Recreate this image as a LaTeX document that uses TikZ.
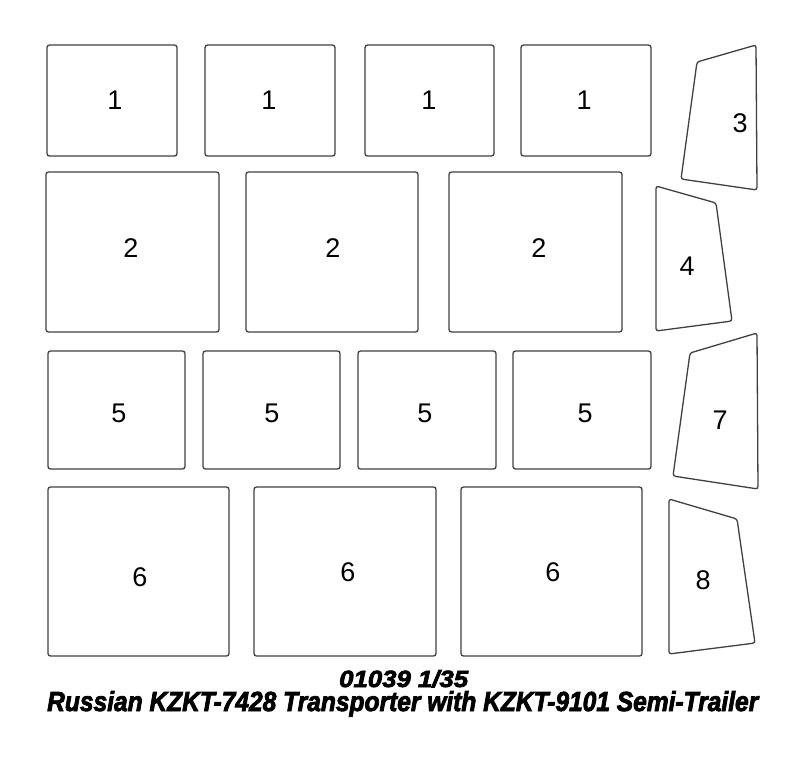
\documentclass[tikz,border=0pt]{standalone}
\usepackage{fontspec}
\setmainfont{Liberation Sans}
\newfontfamily\titlefont{Liberation Sans Bold Italic}[FakeBold=3]
\usepackage{graphicx}

\definecolor{partline}{HTML}{404040}

\tikzset{
    part/.style={draw=partline, line width=1.3pt, rounded corners=2.5pt},
    partnum/.style={font=\fontsize{27}{27}\selectfont, inner sep=0pt}
}

\begin{document}
\begin{tikzpicture}[x=1pt, y=-1pt]
    \useasboundingbox (0,0) rectangle (800,764);

    % Row of parts 1
    \foreach \xa/\xb/\lx in {47/177/115, 205/335/269, 365/494/429, 521/651/584} {
        \draw[part] (\xa,45) rectangle (\xb,156);
        \node[partnum] (one\lx) at (\lx,100) {1};
    }

    % Row of parts 2
    \foreach \xa/\xb/\lx in {46/219/131, 246/418/333, 449/622/539} {
        \draw[part] (\xa,172) rectangle (\xb,332);
        \node[partnum] (two\lx) at (\lx,248) {2};
    }

    % Row of parts 5
    \foreach \xa/\xb/\lx in {48/185/119, 203/340/272, 358/496/425, 513/651/585} {
        \draw[part] (\xa,351) rectangle (\xb,469);
        \node[partnum] (five\lx) at (\lx,413) {5};
    }

    % Row of parts 6
    \foreach \xa/\xb/\lx/\ly in {48/229/140/577, 254/436/348/572, 461/642/553/572} {
        \draw[part] (\xa,487) rectangle (\xb,656);
        \node[partnum] (six\lx) at (\lx,\ly) {6};
    }

    % Side windows 3, 4, 7, 8
    \draw[part] (697,62) -- (756,45) -- (757,190) -- (681,179) -- cycle;
    \node[partnum] (three) at (740,123) {3};
    \draw[part] (656,186) -- (716,203) -- (732,321) -- (656,331) -- cycle;
    \node[partnum] (four) at (687,266) {4};
    \draw[part] (690,353) -- (757,333) -- (758,489) -- (673,476) -- cycle;
    \node[partnum] (seven) at (720,420) {7};
    \draw[part] (669,499) -- (737,519) -- (755,643) -- (669,654) -- cycle;
    \node[partnum] (eight) at (703,580) {8};

    % Title
    \node[anchor=base west, inner sep=0pt] (kit) at (339,687)
        {\resizebox{129pt}{17pt}{\titlefont 01039 1/35}};
    \node[anchor=base west, inner sep=0pt] (title) at (47,711)
        {\resizebox{711pt}{20pt}{\titlefont Russian KZKT-7428 Transporter with KZKT-9101 Semi-Trailer}};
\end{tikzpicture}
\end{document}
